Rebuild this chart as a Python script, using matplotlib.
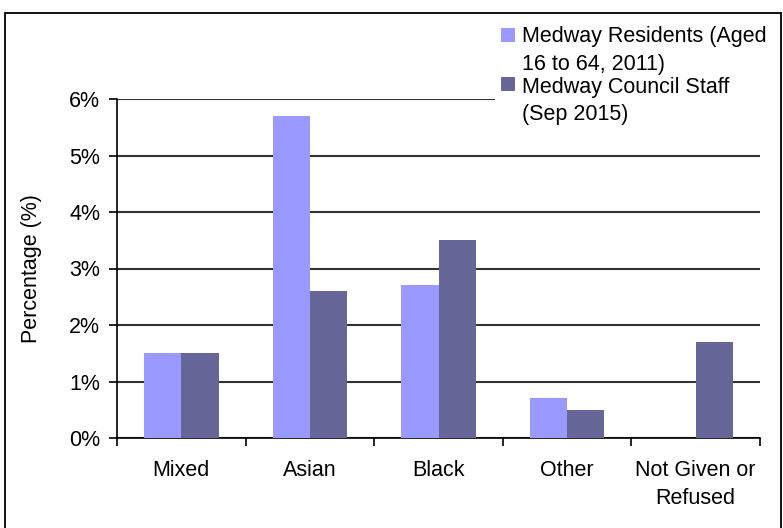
import matplotlib
matplotlib.use("Agg")
import matplotlib.pyplot as plt
from matplotlib.patches import Rectangle
from matplotlib.ticker import FuncFormatter
from matplotlib import font_manager

categories = ["Mixed", "Asian", "Black", "Other", "Not Given or\nRefused"]
residents = [1.5, 5.7, 2.7, 0.7, 0.0]
staff = [1.5, 2.6, 3.5, 0.5, 1.7]
series_names = ["Medway Residents (Aged\n16 to 64, 2011)", "Medway Council Staff\n(Sep 2015)"]
yticks = [0, 1, 2, 3, 4, 5, 6]

names = {f.name for f in font_manager.fontManager.ttflist}
base = "Liberation Sans" if "Liberation Sans" in names else "DejaVu Sans"
plt.rcParams['font.family'] = [base, 'DejaVu Sans']
FS = 15.5

W, H = 783, 528
fig = plt.figure(figsize=(W/100, H/100), dpi=100)
fig.patch.set_facecolor("white")
fig.patches.append(Rectangle((5/W, -0.05), 776/W, 1.05 - 13/H, transform=fig.transFigure,
                             fill=False, edgecolor="black", linewidth=1.3))

ax_l, ax_r, ax_t, ax_b = 117, 760, 99, 438
ax = fig.add_axes([ax_l/W, 1 - ax_b/H, (ax_r-ax_l)/W, (ax_b-ax_t)/H])
c1, c2 = "#9999FF", "#666699"
x = list(range(len(categories)))
bw = 0.29
ax.bar([i - bw/2 for i in x], residents, width=bw, color=c1, zorder=3, label=series_names[0])
ax.bar([i + bw/2 for i in x], staff, width=bw, color=c2, zorder=3, label=series_names[1])

ax.set_xlim(-0.5, len(categories) - 0.5)
ax.set_ylim(0, 6)
ax.set_yticks(yticks)
ax.yaxis.set_major_formatter(FuncFormatter(lambda v, p: f"{int(v)}%"))
ax.grid(axis="y", color="#333333", linewidth=1.5, zorder=0)
ax.set_axisbelow(True)
for s in ["top", "right"]:
    ax.spines[s].set_visible(False)
ax.spines["left"].set_linewidth(1.2)
ax.spines["bottom"].set_linewidth(1.2)

ax.set_xticks([i - 0.5 for i in range(len(categories) + 1)])
ax.set_xticklabels([])
ax.set_xticks(x, minor=True)
ax.set_xticklabels(categories, minor=True, fontsize=FS, linespacing=1.42)
ax.tick_params(axis="x", which="minor", length=0, pad=16)
ax.tick_params(axis="x", which="major", length=6, width=1.2, direction="out")
ax.tick_params(axis="y", length=6, width=1.2, direction="out", labelsize=FS, pad=6)
ax.set_ylabel("Percentage (%)", fontsize=FS)
ax.yaxis.label.set_va("center")
ax.yaxis.set_label_coords((31 - ax_l) / (ax_r - ax_l), 0.5)

# legend (drawn manually to match the reference layout)
fig.patches.append(Rectangle((495/W, 1 - 128/H), 283/W, 110/H, transform=fig.transFigure,
                             facecolor="white", edgecolor="none", zorder=5))
sq_tops = [28, 77]
baselines = [[42, 70], [93, 120]]
for name, col, top, bls in zip(series_names, [c1, c2], sq_tops, baselines):
    fig.patches.append(Rectangle((501/W, 1 - (top + 14)/H), 14/W, 14/H,
                                 transform=fig.transFigure, facecolor=col,
                                 edgecolor="none", zorder=6))
    for line, bl in zip(name.split("\n"), bls):
        fig.text(522/W, 1 - bl/H, line, fontsize=FS, va="baseline", ha="left", zorder=7)

fig.savefig("out.png", dpi=100)
